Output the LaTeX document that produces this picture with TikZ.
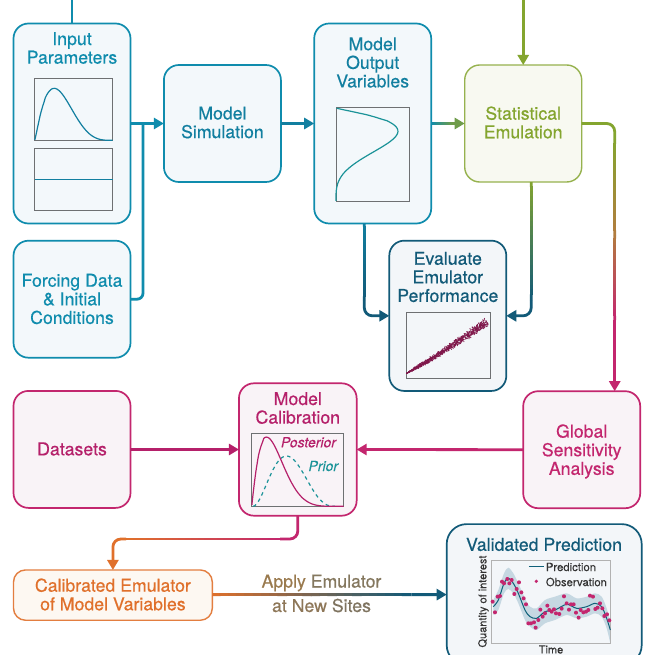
\documentclass[tikz,border=0pt]{standalone}
\usepackage{fontspec}
\setmainfont[FakeBold=0.45]{TeX Gyre Heros}
\newfontfamily\plainhv[FakeBold=0.15]{TeX Gyre Heros}
\usetikzlibrary{arrows.meta,calc}
\definecolor{tealb}{HTML}{0F8CAD}
\definecolor{teald}{HTML}{127FA0}
\definecolor{navyb}{HTML}{125A78}
\definecolor{olivec}{HTML}{84A52F}
\definecolor{oliveg}{HTML}{6F9C4A}
\definecolor{midbr}{HTML}{B27C3E}
\definecolor{magc}{HTML}{C3266E}
\definecolor{magd}{HTML}{B5206A}
\definecolor{orgc}{HTML}{E0702B}
\definecolor{plotgray}{HTML}{6E7072}
\definecolor{fillb}{HTML}{F3F8FB}
\definecolor{fillo}{HTML}{F8F9F1}
\definecolor{filln}{HTML}{F3F6F9}
\definecolor{fillm}{HTML}{F9F3F7}
\definecolor{fillr}{HTML}{FDF8F2}
\definecolor{bandc}{HTML}{C6D8E2}
\definecolor{priorc}{HTML}{1B9398}
\tikzset{
  box/.style={draw,rounded corners=15pt,line width=1.7pt,inner sep=0pt,outer sep=0pt},
  blue box/.style={box,draw=tealb,fill=fillb},
  navy box/.style={box,draw=navyb,fill=filln},
  olive box/.style={box,draw=olivec!85!white,fill=fillo,line width=1.4pt},
  mag box/.style={box,draw=magc,fill=fillm},
  label/.style={inner sep=0pt,outer sep=0pt,align=center,font=\fontsize{17.7}{18.6}\selectfont},
  conn/.style={line width=2.8pt,line cap=butt},
  tip/.style={-{Triangle[length=10pt,width=11pt]}},
  frame/.style={draw=plotgray,line width=1pt},
  curve/.style={line width=1.2pt}
}
% gradient stretch of a connector, between two named points
\newcommand{\gradline}[4]{%
  \foreach \i in {1,...,24}{%
    \pgfmathsetmacro\pa{max(0,(\i-1.15)/24)}%
    \pgfmathsetmacro\pb{\i/24}%
    \pgfmathsetmacro\pc{100-100*(\i-.5)/24}%
    \draw[conn,draw={#3!\pc!#4}] ($(#1)!\pa!(#2)$) -- ($(#1)!\pb!(#2)$);
  }}
\begin{document}
\begin{tikzpicture}[x=1pt,y=-1pt]
\useasboundingbox (0,0) rectangle (655,655);
\clip (0,0) rectangle (655,655);
\fill[white] (0,0) rectangle (655,655);

% ---------- boxes
\node[blue box,minimum width=117pt,minimum height=200pt] (ip) at (72,123.5) {};
\node[blue box,minimum width=117pt,minimum height=117pt,text=tealb] (fd) at (72,299.2) {};
\node[blue box,minimum width=117pt,minimum height=117pt] (ms) at (222.4,123.5) {};
\node[blue box,minimum width=117pt,minimum height=200pt] (mo) at (372.7,123.5) {};
\node[olive box,minimum width=117pt,minimum height=117pt] (st) at (523.2,123.5) {};
\node[navy box,minimum width=117pt,minimum height=150.3pt] (ev) at (447.8,315.8) {};
\node[mag box,minimum width=117pt,minimum height=117pt] (ga) at (581.7,449.7) {};
\node[mag box,minimum width=117pt,minimum height=117pt] (ds) at (72,449.4) {};
\node[mag box,minimum width=117.7pt,minimum height=132.4pt] (ca) at (297.8,449.5) {};
\node[box,draw=orgc!90!white,fill=fillr,line width=1.4pt,rounded corners=12pt,minimum width=198.8pt,minimum height=50.3pt] (cb) at (112.9,595.1) {};
\node[navy box,rounded corners=20pt,minimum width=195pt,minimum height=141pt] (vp) at (544.2,594.6) {};

% ---------- box texts
\node[label,text=tealb] (tip1) at (72,48) {Input\\Parameters};
\node[label,text=tealb] (tfd) at (72,299) {Forcing Data\\\& Initial\\Conditions};
\node[label,text=teald] (tms) at (222.4,122.5) {Model\\Simulation};
\node[label,text=teald] (tmo) at (372.7,62.5) {Model\\Output\\Variables};
\node[label,text=olivec] (tst) at (523.2,122.5) {Statistical\\Emulation};
\node[label,text=navyb] (tev) at (447.8,277) {Evaluate\\Emulator\\Performance};
\node[label,text=magc] (tga) at (581.7,451.5) {Global\\Sensitivity\\Analysis};
\node[label,text=magd] (tds) at (72,449) {Datasets};
\node[label,text=magd] (tca) at (297.8,408) {Model\\Calibration};
\node[label,text=orgc] (tcb) at (112.9,594.5) {Calibrated Emulator\\of Model Variables};
\node[label,text=navyb] (tvp) at (544,544.5) {Validated Prediction};

% ---------- connectors
\coordinate (top1) at (ip.north |- 0,0);
\coordinate (top2) at (st.north |- 0,0);
\draw[conn,draw=tealb] (top1) -- (ip.north);
\draw[conn,tip,draw=olivec] (top2) -- (st.north);
\draw[conn,tip,draw=tealb] (ip.east) -- (ms.west);
\coordinate (jn) at (143,123.5);
\draw[conn,draw=tealb,rounded corners=6pt] (fd.east) -- (jn |- fd.east) -- (jn);
\draw[conn,tip,draw=teald] (ms.east) -- (mo.west);
% output -> emulation
\coordinate (oe) at (452,123.5);
\gradline{mo.east}{oe}{tealb}{oliveg}
\draw[conn,tip,draw=oliveg] (oe) -- (st.west);
% output -> evaluate
\coordinate (oa) at ([xshift=-8.4pt]mo.south);
\coordinate (ob) at (oa |- 0,300);
\gradline{oa}{ob}{teald}{navyb}
\draw[conn,tip,draw=navyb,rounded corners=8pt] (ob) -- (oa |- ev.west) -- (ev.west);
% emulation -> evaluate
\coordinate (sa) at ([xshift=8pt]st.south);
\coordinate (sb) at (sa |- 0,300);
\gradline{sa}{sb}{olivec}{navyb}
\draw[conn,tip,draw=navyb,rounded corners=8pt] (sb) -- (sa |- ev.east) -- (ev.east);
% emulation -> sensitivity
\coordinate (ga1) at ([xshift=33pt]ga.north);
\coordinate (gb) at (ga1 |- 0,140);
\coordinate (gc) at (ga1 |- 0,235);
\coordinate (gd) at (ga1 |- 0,320);
\draw[conn,draw=olivec,rounded corners=8pt] (st.east) -- (ga1 |- st.east) -- (gb);
\gradline{gb}{gc}{olivec}{midbr}
\gradline{gc}{gd}{midbr}{magc}
\draw[conn,tip,draw=magc] (gd) -- (ga1);
% datasets, sensitivity -> calibration
\draw[conn,tip,draw=magd] (ds.east) -- (ca.west);
\draw[conn,tip,draw=magc] (ga.west) -- (ca.east);
% calibration -> calibrated emulator
\coordinate (ma) at (280,539);
\coordinate (mb) at (126,539);
\draw[conn,draw=magc,rounded corners=8pt] (ca.south) -- (ca.south |- ma) -- (ma);
\gradline{ma}{mb}{magc}{orgc}
\draw[conn,tip,draw=orgc,rounded corners=8pt] (mb) -- (cb.north |- ma) -- (cb.north);
% calibrated emulator -> prediction
\coordinate (va) at (cb.east |- vp.west);
\coordinate (vb) at ($(va)!0.85!(vp.west)$);
\gradline{va}{vb}{orgc}{navyb}
\draw[conn,tip,draw=navyb] (vb) -- (vp.west);
\node[label] (la) at (321.5,583) {\textcolor[HTML]{9A7A4E}{Apply} \textcolor[HTML]{85785F}{Emulator}};
\node[label] (lb) at (321.5,605.5) {\textcolor[HTML]{8E7758}{at New} \textcolor[HTML]{7F7460}{Sites}};

% ---------- input plots
\draw[frame] (34.7,78.7) rectangle (112.7,140.3);
\draw[frame] (34.7,148.7) rectangle (112.7,210.3);
\draw[curve,draw=teald] plot[smooth,domain=0.002:0.998,samples=60,variable=\t]
  ({34.7+78*\t},{140.3-772.7*pow(\t,1.2)*pow(1-\t,3.6)});
\draw[curve,draw=teald] (34.7,179.7) -- (112.7,179.7);
% output plot
\draw[frame] (336,108) rectangle (409.7,201);
\draw[curve,draw=priorc] plot[smooth,domain=0.002:0.998,samples=60,variable=\t]
  ({336+921*pow(\t,1.2)*pow(1-\t,3.6)},{108+93*\t});
% scatter plot
\draw[frame] (406.3,312.3) rectangle (490,378.7);
\pgfmathsetseed{17}
\foreach \k in {1,...,1100}{%
  \pgfmathsetmacro\u{rnd}%
  \pgfmathsetmacro\nn{(rand+rand)/2*(1.4+3.4*\u)*min(1,8*\u)}%
  \pgfmathsetmacro\px{406.7+80*\u+0.55*\nn}%
  \pgfmathsetmacro\py{373.3-51.6*\u+6*\u*(1-\u)+0.85*\nn}%
  \fill[magd!70!black] (\px,\py) circle (0.6pt);
}
% calibration plot
\draw[frame] (251.7,433.7) rectangle (343.7,506.3);
\draw[line width=1.2pt,draw=priorc,dash pattern=on 3.5pt off 3.5pt]
  plot[smooth,domain=0.002:0.998,samples=50,variable=\t]
  ({253+82*\t},{506.3-1382*pow(\t,2)*pow(1-\t,2.9)});
\draw[curve,draw=magd] plot[smooth,domain=0.002:0.998,samples=70,variable=\t]
  ({251.7+92*\t},{506.3-1345*pow(\t,1.1)*pow(1-\t,5.5)});
\node[inner sep=0pt,text=magd,font=\plainhv\fontsize{14}{14}\selectfont\itshape] (tpo) at (308.5,442.3) {Posterior};
\node[inner sep=0pt,text=priorc,font=\plainhv\fontsize{14}{14}\selectfont\itshape] (tpr) at (323.3,466) {Prior};

% ---------- prediction plot (measured on a 3x crop)
\begin{scope}[shift={(430,515)},x=0.3333pt,y=-0.3333pt]
\fill[bandc,draw=none]
  plot[smooth] coordinates {(190,255)(205,225)(222,175)(235,158)(250,175)(265,205)(285,250)(300,275)(320,280)(345,255)(375,245)(410,235)(440,250)(470,245)(495,235)(515,245)(530,280)(541,320)}
  -- plot[smooth] coordinates {(541,385)(530,340)(515,305)(495,295)(470,305)(440,310)(410,300)(375,315)(345,325)(320,345)(300,335)(285,315)(265,265)(250,235)(235,222)(222,235)(205,285)(190,300)} -- cycle;
\draw[draw=gray!60,line width=.8pt] (185,136) rectangle (541,385);
\draw[line width=1pt,draw=navyb!85!teal] plot[smooth] coordinates {(190,275)(205,255)(222,205)(235,190)(250,205)(265,235)(285,285)(300,305)(320,310)(345,290)(375,285)(410,268)(440,280)(470,275)(495,265)(515,275)(530,310)(541,345)};
\foreach \a/\b in {188/260,195/292,203/245,210/243,216/200,222/205,232/192,238/205,245/195,253/237,260/222,267/202,274/232,281/250,288/268,295/325,303/325,312/322,317/338,325/315,331/284,338/305,345/295,352/272,358/285,365/290,372/283,378/295,388/297,395/281,402/244,410/265,417/284,423/268,431/268,438/293,446/308,452/285,460/292,468/290,475/285,480/242,489/245,496/282,503/278,510/265,517/280,523/303,531/298,538/316}
  \fill[magc] (\a,\b) circle (2pt);
\draw[line width=1pt,draw=navyb!85!teal] (297,155) -- (342,155);
\fill[magc] (319,199) circle (1.8pt);
\end{scope}
\node[inner sep=0pt,anchor=west,text=black!80,font=\plainhv\fontsize{11.3}{12}\selectfont] (lp) at (545.7,567) {Prediction};
\node[inner sep=0pt,anchor=west,text=black!80,font=\plainhv\fontsize{11.3}{12}\selectfont] (lo) at (545.7,582) {Observation};
\node[inner sep=0pt,rotate=90,text=black!80,font=\plainhv\fontsize{11}{12}\selectfont] (ly) at (483.5,601.5) {Quantity of interest};
\node[inner sep=0pt,text=black!80,font=\plainhv\fontsize{11}{12}\selectfont] (lx) at (551,649.5) {Time};
\end{tikzpicture}
\end{document}
